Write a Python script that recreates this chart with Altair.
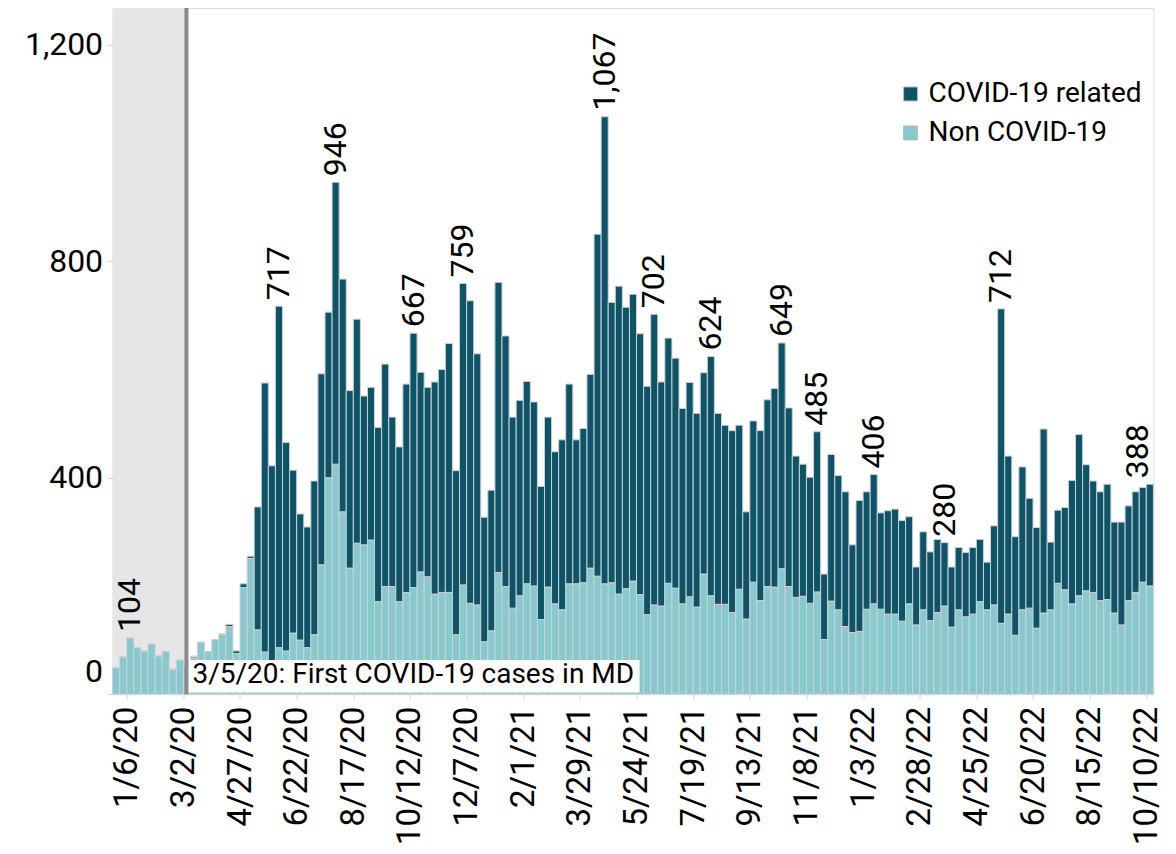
import altair as alt
import pandas as pd

FONT = "Roboto"
DARK = "#0e5468"
LIGHT = "#86c9ce"

first_week = "2019-12-23"
first_case = "2020-03-05"
annotation_text = "3/5/20: First COVID-19 cases in MD"
series = ["COVID-19 related", "Non COVID-19"]

# weekly totals (COVID-19 related + non COVID-19)
total = [49, 69, 104, 86, 80, 93, 71, 79, 46, 63,
         50, 70, 96, 79, 101, 111, 129, 80, 204, 255,
         346, 575, 422, 717, 465, 414, 333, 309, 394, 592,
         706, 946, 767, 561, 693, 551, 567, 493, 610, 512,
         457, 573, 667, 595, 567, 577, 600, 648, 413, 759,
         727, 629, 327, 377, 761, 662, 512, 543, 578, 540,
         384, 512, 448, 470, 573, 470, 491, 591, 850, 1067,
         724, 754, 715, 739, 666, 569, 702, 577, 658, 621,
         528, 576, 519, 594, 624, 519, 497, 487, 497, 337,
         505, 487, 544, 565, 649, 529, 440, 425, 401, 485,
         222, 443, 404, 374, 276, 358, 374, 406, 335, 339,
         342, 321, 328, 235, 300, 263, 286, 280, 235, 271,
         262, 271, 286, 244, 311, 712, 440, 291, 420, 362,
         308, 490, 281, 340, 345, 395, 480, 424, 394, 374,
         388, 318, 318, 348, 374, 382, 388]

non_covid = [49, 69, 104, 86, 80, 93, 71, 79, 46, 63,
             50, 70, 96, 79, 101, 111, 125, 75, 197, 251,
             119, 78, 60, 86, 80, 113, 100, 86, 110, 239,
             400, 425, 337, 233, 279, 276, 285, 171, 199, 199,
             171, 188, 197, 226, 217, 185, 188, 188, 110, 202,
             168, 165, 97, 117, 225, 199, 159, 182, 204, 200,
             138, 198, 167, 156, 204, 204, 206, 233, 218, 204,
             206, 185, 195, 209, 184, 147, 165, 163, 205, 196,
             167, 180, 161, 222, 182, 166, 166, 151, 194, 139,
             207, 173, 199, 198, 232, 199, 179, 181, 168, 189,
             101, 172, 156, 125, 114, 116, 157, 167, 157, 148,
             148, 135, 167, 128, 156, 136, 151, 163, 124, 156,
             143, 148, 171, 156, 165, 131, 148, 109, 156, 159,
             122, 150, 156, 205, 193, 167, 182, 191, 188, 173,
             175, 150, 128, 173, 188, 207, 200]

labeled_weeks = ["2020-01-06", "2020-06-01", "2020-07-27", "2020-10-12",
                 "2020-11-30", "2021-04-19", "2021-06-07", "2021-08-02",
                 "2021-10-11", "2021-11-15", "2022-01-10", "2022-03-21",
                 "2022-05-16", "2022-10-10"]

tick_labels = ["1/6/20", "3/2/20", "4/27/20", "6/22/20", "8/17/20", "10/12/20",
               "12/7/20", "2/1/21", "3/29/21", "5/24/21", "7/19/21", "9/13/21",
               "11/8/21", "1/3/22", "2/28/22", "4/25/22", "6/20/22", "8/15/22",
               "10/10/22"]

y_ticks = [0, 400, 800, 1200]

# ---------------------------------------------------------------------------
W = 1040.8
H = 686.2
Y_MAX = 1268


def ms(ts):
    return int(pd.Timestamp(ts).tz_localize("UTC").timestamp() * 1000)


weeks = pd.date_range(first_week, periods=len(total), freq="7D")
fmt = "%Y-%m-%dT%H:%M:%SZ"
base = pd.DataFrame({
    "week": weeks.strftime(fmt),
    "end": (weeks + pd.Timedelta(days=7)).strftime(fmt),
    "mid": (weeks + pd.Timedelta(hours=84)).strftime(fmt),
    "total": total,
    "non": non_covid,
    "day": weeks.strftime("%Y-%m-%d"),
})

rows = []
for _, r in base.iterrows():
    rows.append({"week": r.week, "end": r.end, "series": series[1], "y0": 0, "y1": r.non})
    rows.append({"week": r.week, "end": r.end, "series": series[0], "y0": r.non, "y1": r.total})
bars_df = pd.DataFrame(rows)

lab_df = base[base.day.isin(labeled_weeks)]
lab_main = lab_df.iloc[:-1]
lab_last = lab_df.iloc[-1:]

tick_dates = pd.to_datetime(tick_labels, format="%m/%d/%y")
tick_ms = [ms(d) for d in tick_dates]
end_week = weeks[-1] + pd.Timedelta(days=7)

xscale = alt.Scale(type="utc", domain=[ms(weeks[0]), ms(end_week)])
yscale = alt.Scale(domain=[0, Y_MAX], nice=False, zero=True)

xaxis = alt.Axis(values=tick_ms, format="%-m/%-d/%y", labelAngle=270,
                 labelFontSize=33, labelFont=FONT, labelColor="black",
                 domain=False, grid=False, tickColor="#d6d6d6", tickSize=5,
                 labelPadding=7, title=None, labelFlush=False, labelOverlap=False)
yaxis = alt.Axis(values=y_ticks, format=",.0f", labelFontSize=32,
                 labelFont=FONT, labelColor="black", domain=False, grid=False,
                 tickColor="#d6d6d6", tickSize=6, labelPadding=4,
                 labelFlush=True, labelFlushOffset=-6, title=None)

band_df = pd.DataFrame({"start": [weeks[0].strftime(fmt)],
                        "stop": [pd.Timestamp(first_case).strftime(fmt)]})
band = alt.Chart(band_df).mark_rect(color="#e6e6e6").encode(
    x=alt.X("start:T", scale=xscale, axis=xaxis),
    x2="stop:T",
    y=alt.value(0),
    y2=alt.value(H),
)

bars = alt.Chart(bars_df).mark_bar(stroke="#d0d0d0", strokeWidth=1).encode(
    x=alt.X("week:T", scale=xscale, axis=xaxis),
    x2="end:T",
    y=alt.Y("y1:Q", scale=yscale, axis=yaxis),
    y2="y0:Q",
    color=alt.Color("series:N",
                    scale=alt.Scale(domain=series, range=[DARK, LIGHT]),
                    legend=alt.Legend(orient="none", legendX=784, legendY=72,
                                      title=None, symbolType="square",
                                      symbolSize=196, labelFontSize=28,
                                      labelFont=FONT, labelColor="black",
                                      labelLimit=0,
                                      labelOffset=4, rowPadding=11,
                                      symbolStrokeColor="#bbbbbb",
                                      symbolStrokeWidth=1, padding=0)),
)

ann_df = pd.DataFrame({"x": [pd.Timestamp(first_case).strftime(fmt)],
                       "x2": ["2021-05-27T00:00:00Z"],
                       "lo": [3], "hi": [63], "ty": [36],
                       "text": [annotation_text]})

box = alt.Chart(ann_df).mark_rect(color="white").encode(
    x=alt.X("x:T", scale=xscale, axis=xaxis), x2="x2:T",
    y=alt.Y("lo:Q", scale=yscale, axis=yaxis), y2="hi:Q",
)

rule = alt.Chart(ann_df).mark_rule(color="#8a8a8a", strokeWidth=4).encode(
    x=alt.X("x:T", scale=xscale, axis=xaxis),
)

ann_text = alt.Chart(ann_df).mark_text(align="left", baseline="middle", dx=6,
                                       fontSize=28, font=FONT, color="black").encode(
    x=alt.X("x:T", scale=xscale, axis=xaxis),
    y=alt.Y("ty:Q", scale=yscale, axis=yaxis),
    text="text:N",
)

peak = alt.Chart(lab_main).mark_text(angle=270, align="left", baseline="middle",
                                     dx=6, fontSize=32, font=FONT, color="black").encode(
    x=alt.X("mid:T", scale=xscale, axis=xaxis),
    y=alt.Y("total:Q", scale=yscale, axis=yaxis),
    text=alt.Text("total:Q", format=","),
)

peak_last = alt.Chart(lab_last).mark_text(angle=270, align="left", baseline="middle",
                                          dx=6, dy=-12, fontSize=32, font=FONT,
                                          color="black").encode(
    x=alt.X("mid:T", scale=xscale, axis=xaxis),
    y=alt.Y("total:Q", scale=yscale, axis=yaxis),
    text=alt.Text("total:Q", format=","),
)

chart = alt.layer(band, bars, box, rule, ann_text, peak, peak_last).properties(
    width=W, height=H,
    autosize=alt.AutoSizeParams(type="none"),
    padding={"left": 104.6, "top": 0, "right": 14, "bottom": 151},
).configure_view(stroke=None).configure(font=FONT)

chart.save("out.html", embed_options={"renderer": "svg", "actions": False})
